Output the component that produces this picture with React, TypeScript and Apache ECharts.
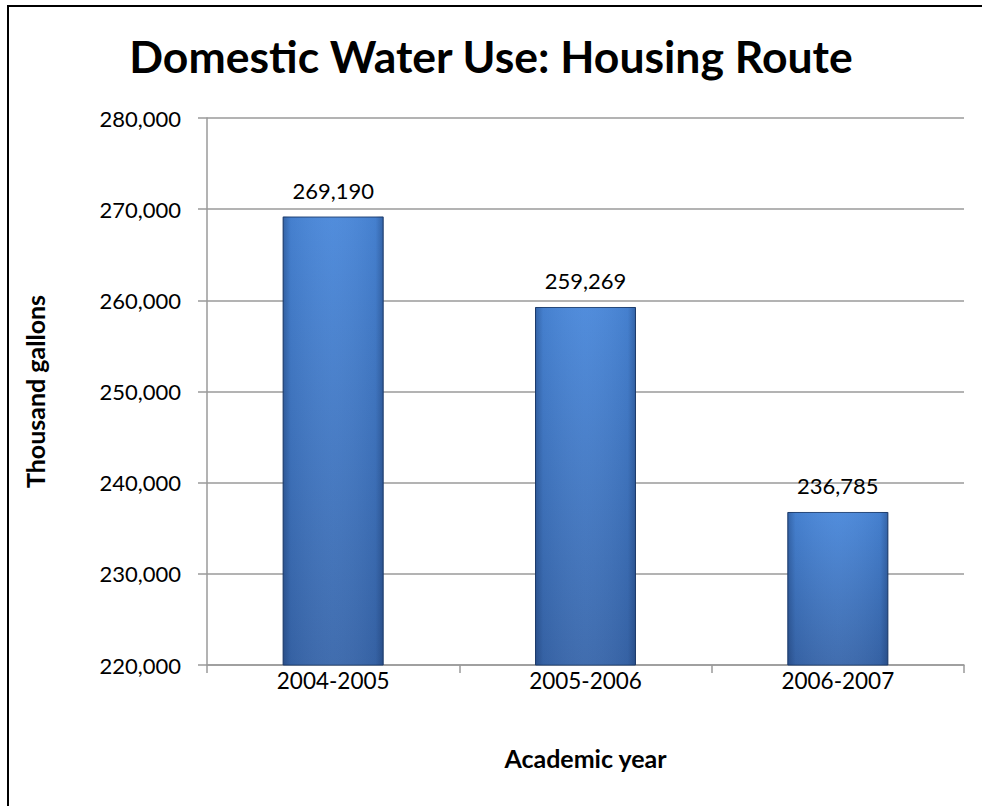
import React, { useEffect, useRef } from "react";
import * as echarts from "echarts";

const categories = ["2004-2005", "2005-2006", "2006-2007"];
const waterUse = [269190, 259269, 236785];
const yMin = 220000;
const yMax = 280000;
const yStep = 10000;

const FONT = "Lato, 'Open Sans', sans-serif";
const fmt = (v: number) => v.toLocaleString("en-US");

export default function App() {
  const ref = useRef<HTMLDivElement>(null);
  useEffect(() => {
    if (!ref.current) return;
    const chart = echarts.init(ref.current, null, { renderer: "svg" });
    chart.setOption({
      animation: false,
      backgroundColor: "#ffffff",
      title: {
        text: "Domestic Water Use: Housing Route",
        left: "center",
        top: 28,
        textStyle: { fontFamily: FONT, fontSize: 44.5, fontWeight: "bold", color: "#000" },
      },
      graphic: [
        {
          type: "rect",
          shape: { x: 972, y: 8, width: 12, height: 800 },
          style: { fill: "#ffffff" },
          z: 100,
          silent: true,
        },
        {
          type: "line",
          shape: { x1: 7, y1: 6, x2: 982, y2: 6 },
          style: { stroke: "#000", lineWidth: 2 },
          z: 101,
          silent: true,
        },
        {
          type: "line",
          shape: { x1: 8, y1: 5, x2: 8, y2: 806 },
          style: { stroke: "#000", lineWidth: 2 },
          z: 101,
          silent: true,
        },
      ],
      grid: { left: 207, right: 18, top: 118, bottom: 141 },
      xAxis: {
        type: "category",
        data: categories,
        name: "Academic year",
        nameLocation: "middle",
        nameGap: 80,
        nameTextStyle: { fontFamily: FONT, fontSize: 25, fontWeight: "bold", color: "#000" },
        axisLine: { lineStyle: { color: "#9a9a9a", width: 1.5 } },
        axisTick: { show: true, length: 8, lineStyle: { color: "#9a9a9a", width: 1.5 } },
        axisLabel: { fontFamily: FONT, fontSize: 22.5, color: "#000", margin: 4 },
      },
      yAxis: {
        type: "value",
        min: yMin,
        max: yMax,
        interval: yStep,
        name: "Thousand gallons",
        nameLocation: "middle",
        nameGap: 160,
        nameRotate: 90,
        nameTextStyle: { fontFamily: FONT, fontSize: 25, fontWeight: "bold", color: "#000" },
        axisLine: { show: true, lineStyle: { color: "#9a9a9a", width: 1.5 } },
        axisTick: { show: true, length: 9, lineStyle: { color: "#9a9a9a", width: 1.5 } },
        axisLabel: { fontFamily: FONT, fontSize: 22, color: "#000", margin: 26, formatter: (v: number) => fmt(v) },
        splitLine: { show: true, lineStyle: { color: "#9a9a9a", width: 1.5 } },
      },
      series: [
        {
          type: "bar",
          data: waterUse,
          barWidth: "40%",
          z: 2,
          itemStyle: {
            color: new echarts.graphic.LinearGradient(0, 0, 0, 1, [
              { offset: 0, color: "#4a88da" },
              { offset: 1, color: "#3967ab" },
            ]),
            borderColor: "#23467a",
            borderWidth: 1,
          },
          label: {
            show: true,
            position: "top",
            distance: 15,
            fontFamily: FONT,
            fontSize: 22,
            color: "#000",
            formatter: (p: any) => fmt(p.value),
          },
        },
        {
          type: "bar",
          data: waterUse,
          barWidth: "40%",
          barGap: "-100%",
          z: 3,
          silent: true,
          itemStyle: {
            color: new echarts.graphic.LinearGradient(0, 0, 1, 0, [
              { offset: 0, color: "rgba(10,30,70,0.35)" },
              { offset: 0.08, color: "rgba(10,30,70,0.08)" },
              { offset: 0.5, color: "rgba(255,255,255,0.04)" },
              { offset: 0.92, color: "rgba(10,30,70,0.08)" },
              { offset: 1, color: "rgba(10,30,70,0.35)" },
            ]),
          },
          label: { show: false },
        },
      ],
    });
    return () => chart.dispose();
  }, []);
  return <div ref={ref} style={{ width: 982, height: 806, position: "absolute", left: 0, top: 0 }} />;
}
